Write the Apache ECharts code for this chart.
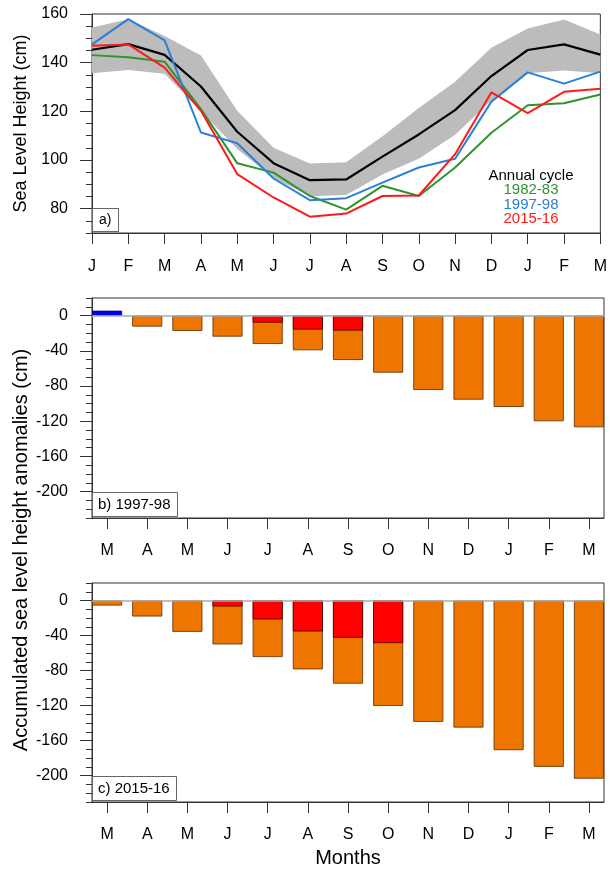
<!DOCTYPE html>
<html><head><meta charset="utf-8">
<script src="https://cdn.jsdelivr.net/npm/echarts@6/dist/echarts.min.js"></script>
<style>html,body{margin:0;padding:0;background:#fff}#c{width:610px;height:870px}</style>
</head><body><div id="c"></div>
<script>
// ---- Panel a: annual cycle ----
const monthsA = ['J','F','M','A','M','J','J','A','S','O','N','D','J','F','M'];
const climMean = [145.3,147.6,143.2,130.2,111.6,98.7,91.7,92.0,101.4,110.5,120.5,134.5,145.2,147.5,143.3];
const bandUpper = [154.5,157.8,151.0,142.9,120.2,105.0,98.6,99.1,109.8,121.4,132.2,146.1,154.0,157.7,151.6];
const bandLower = [135.7,137.0,135.4,120.0,104.5,92.6,85.1,85.6,94.0,100.5,110.4,124.5,135.6,136.8,135.6];
const y1982 = [143.1,142.2,140.4,120.9,98.7,94.8,85.2,79.6,89.4,85.2,96.9,111.2,122.5,123.3,126.9];
const y1997 = [147.5,157.9,149.2,111.3,106.9,92.4,83.5,84.3,90.7,96.9,100.5,124.0,136.0,131.4,136.3];
const y2015 = [147.0,147.5,138.0,120.2,94.2,84.6,76.7,78.0,85.2,85.4,102.4,127.8,119.3,128.0,129.3];
const yTicksA = [80,100,120,140,160];
const yMinorA = [70,75,85,90,95,105,110,115,125,130,135,145,150,155];

// ---- Panels b, c: accumulated anomalies ----
const monthsB = ['M','A','M','J','J','A','S','O','N','D','J','F','M'];
const b_total = [null,-12.5,-17.4,-23.9,-32.2,-39.4,-50.4,-64.8,-84.5,-95.5,-103.8,-120.0,-126.9];
const b_red   = [null,null,null,null,-8.0,-15.9,-17.0,null,null,null,null,null,null];
const b_blue  = [5.6,null,null,null,null,null,null,null,null,null,null,null,null];
const c_total = [-5.7,-18.2,-35.7,-50.1,-64.5,-78.6,-94.9,-120.3,-138.5,-145.0,-170.8,-189.8,-203.4];
const c_red   = [null,null,null,-6.8,-21.6,-35.3,-42.5,-48.6,null,null,null,null,null];
const c_blue  = [null,null,null,null,null,null,null,null,null,null,null,null,null];
const yTicksB = [0,-40,-80,-120,-160,-200];
const yMinorB = [20,10,-10,-20,-30,-50,-60,-70,-90,-100,-110,-130,-140,-150,-170,-180,-190,-210,-220,-230];

const FONT = 'Liberation Sans';
const AX = '#333';
const ORANGE = '#ee7600', RED = '#ff0000', BLUE = '#0000f0';
const GREEN = '#2f932f', LBLUE = '#2a80d6', LRED = '#ff1a1a';

const xIdx = monthsB.map((_, i) => i);
const pairs = arr => arr.map((v, i) => [i, v]);
const bandDiff = bandUpper.map((u, i) => u - bandLower[i]);

function majorY(gi, min, max, ticks, extra) {
  return Object.assign({
    type: 'value', gridIndex: gi, min: min, max: max, position: 'left',
    axisLine: {show: true, onZero: false, lineStyle: {color: AX, width: 1}},
    axisTick: {show: true, inside: false, length: 12, customValues: ticks, lineStyle: {color: AX}},
    axisLabel: {customValues: ticks, margin: 24, fontFamily: FONT, fontSize: 16, color: '#000'},
    splitLine: {show: false}
  }, extra || {});
}
function minorY(gi, min, max, ticks) {
  return {
    type: 'value', gridIndex: gi, min: min, max: max, position: 'left', offset: 0,
    axisLine: {show: false, onZero: false},
    axisTick: {show: true, inside: false, length: 6, customValues: ticks, lineStyle: {color: AX}},
    axisLabel: {show: false}, splitLine: {show: false}
  };
}
function barX(gi, extra) {
  return Object.assign({
    type: 'value', gridIndex: gi, min: -0.375, max: 12.375, position: 'bottom',
    axisLine: {show: true, onZero: false, lineStyle: {color: AX}},
    axisTick: {show: true, inside: false, length: 11, customValues: xIdx, lineStyle: {color: AX}},
    axisLabel: {customValues: xIdx, formatter: v => monthsB[Math.round(v)], margin: 25,
      fontFamily: FONT, fontSize: 16, color: '#000'},
    splitLine: {show: false}
  }, extra || {});
}
function barSeries(gi, total, red, blue) {
  const yi = gi === 1 ? 2 : 4;
  const common = {type: 'bar', xAxisIndex: gi, yAxisIndex: yi, barWidth: 30, barGap: '-100%'};
  return [
    Object.assign({}, common, {name: 'total' + gi, data: pairs(total),
      itemStyle: {color: ORANGE, borderColor: '#5a2a00', borderWidth: 0.8},
      markLine: {silent: true, symbol: 'none', label: {show: false},
        lineStyle: {color: '#aaaaaa', type: 'solid', width: 1.5}, data: [{yAxis: 0}]}}),
    Object.assign({}, common, {name: 'red' + gi, data: pairs(red),
      itemStyle: {color: RED, borderColor: '#4a0000', borderWidth: 0.8}}),
    Object.assign({}, common, {name: 'blue' + gi, data: pairs(blue),
      itemStyle: {color: BLUE, borderColor: '#000060', borderWidth: 0.5}})
  ];
}

const chart = echarts.init(document.getElementById('c'), null, {renderer: 'canvas'});
const lineCommon = {type: 'line', xAxisIndex: 0, yAxisIndex: 0, symbol: 'none', showSymbol: false, z: 3};
const boxTitle = (text, left, top, fs, pad) => ({
  text: text, left: left, top: top, padding: pad, borderColor: '#666', borderWidth: 1,
  backgroundColor: '#fff',
  textStyle: {fontFamily: FONT, fontSize: fs, fontWeight: 'normal', color: '#000'}
});

chart.setOption({
  animation: false,
  backgroundColor: '#fff',
  title: [
    boxTitle('a)', 92, 208, 14, [5, 7, 5, 7]),
    boxTitle('b) 1997-98', 92, 492, 15, [5, 7, 5, 6]),
    boxTitle('c) 2015-16', 92, 776, 15, [5, 7, 5, 6])
  ],
  grid: [
    {left: 92, top: 14, width: 512, height: 219, show: true, borderColor: AX, borderWidth: 1},
    {left: 92, top: 298, width: 512, height: 220, show: true, borderColor: AX, borderWidth: 1},
    {left: 92, top: 583, width: 512, height: 219, show: true, borderColor: AX, borderWidth: 1},
    {left: 92, top: 298, width: 512, height: 504, show: false}
  ],
  xAxis: [
    {type: 'category', gridIndex: 0, data: monthsA, boundaryGap: false, position: 'bottom',
      axisLine: {show: true, onZero: false, lineStyle: {color: AX}},
      axisTick: {show: true, inside: false, length: 11, alignWithLabel: true, lineStyle: {color: AX}},
      axisLabel: {margin: 26, fontFamily: FONT, fontSize: 16, color: '#000', interval: 0},
      splitLine: {show: false}},
    barX(1),
    barX(2, {name: 'Months', nameLocation: 'middle', nameGap: 46,
      nameTextStyle: {fontFamily: FONT, fontSize: 20, color: '#000'}}),
    {type: 'value', gridIndex: 3, show: false, min: 0, max: 1}
  ],
  yAxis: [
    majorY(0, 70, 160, yTicksA, {name: 'Sea Level Height (cm)', nameLocation: 'middle', nameGap: 62,
      nameTextStyle: {fontFamily: FONT, fontSize: 18, color: '#000'}}),
    minorY(0, 70, 160, yMinorA),
    majorY(1, -230, 20, yTicksB),
    minorY(1, -230, 20, yMinorB),
    majorY(2, -230, 20, yTicksB),
    minorY(2, -230, 20, yMinorB),
    {type: 'value', gridIndex: 3, min: 0, max: 1, position: 'left',
      axisLine: {show: false, onZero: false}, axisTick: {show: false}, axisLabel: {show: false}, splitLine: {show: false},
      name: 'Accumulated sea level height anomalies (cm)', nameLocation: 'middle', nameGap: 61,
      nameTextStyle: {fontFamily: FONT, fontSize: 20, color: '#000'}}
  ],
  graphic: [
    {type: 'text', x: 531, y: 176, style: {text: 'Annual cycle', fill: '#000', font: '15px ' + FONT, textAlign: 'center', textVerticalAlign: 'middle'}},
    {type: 'text', x: 531, y: 190, style: {text: '1982-83', fill: GREEN, font: '15px ' + FONT, textAlign: 'center', textVerticalAlign: 'middle'}},
    {type: 'text', x: 531, y: 204.5, style: {text: '1997-98', fill: LBLUE, font: '15px ' + FONT, textAlign: 'center', textVerticalAlign: 'middle'}},
    {type: 'text', x: 531, y: 219, style: {text: '2015-16', fill: LRED, font: '15px ' + FONT, textAlign: 'center', textVerticalAlign: 'middle'}}
  ],
  series: [
    Object.assign({}, lineCommon, {name: 'bandLow', data: bandLower, stack: 'band', lineStyle: {opacity: 0}, z: 1}),
    Object.assign({}, lineCommon, {name: 'band', data: bandDiff, stack: 'band', lineStyle: {opacity: 0},
      areaStyle: {color: '#bcbcbc', opacity: 1}, z: 1}),
    Object.assign({}, lineCommon, {name: 'clim', data: climMean, lineStyle: {color: '#000', width: 2.2}}),
    Object.assign({}, lineCommon, {name: '1982-83', data: y1982, lineStyle: {color: GREEN, width: 2}}),
    Object.assign({}, lineCommon, {name: '1997-98', data: y1997, lineStyle: {color: LBLUE, width: 2}}),
    Object.assign({}, lineCommon, {name: '2015-16', data: y2015, lineStyle: {color: LRED, width: 2}}),
    ...barSeries(1, b_total, b_red, b_blue),
    ...barSeries(2, c_total, c_red, c_blue)
  ]
});
</script></body></html>
